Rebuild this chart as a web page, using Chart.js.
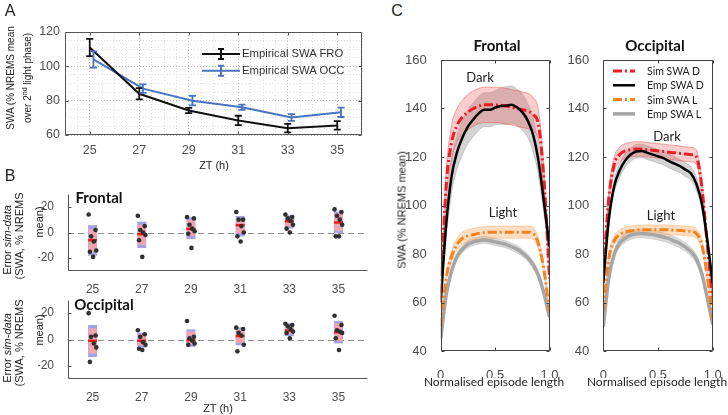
<!DOCTYPE html>
<html>
<head>
<meta charset="utf-8">
<script src="https://cdn.jsdelivr.net/npm/chart.js@4/dist/chart.umd.min.js"></script>
<style>
  body { margin:0; background:#fff; width:728px; height:415px; position:relative; overflow:hidden;
         font-family:"Liberation Sans", Arial, sans-serif; }
  canvas { position:absolute; }
  .t { position:absolute; white-space:nowrap; color:#222; line-height:1; }
</style>
</head>
<body>
<canvas id="chA" width="370" height="175" style="left:0;top:0"></canvas>
<canvas id="chB1" width="372" height="110" style="left:0;top:185px"></canvas>
<canvas id="chB2" width="372" height="110" style="left:0;top:292px"></canvas>
<canvas id="chC1" width="165" height="330" style="left:395px;top:50px"></canvas>
<canvas id="chC2" width="168" height="330" style="left:560px;top:50px"></canvas>
<script>
// ---------- panel A data ----------
var ztHours = [25, 27, 29, 31, 33, 35];
var froMean = [111, 84, 74.3, 68.5, 64, 65.6];
var froErr  = [5, 3.3, 1.5, 2.7, 2.5, 2.5];
var occMean = [104, 87, 80, 76.2, 70.2, 73.2];
var occErr  = [4.7, 2.5, 2.8, 1.5, 2, 2.7];
var occShift = 0.15;
var aYTicks = [60, 80, 100, 120];

// ---------- panel B data (error sim-data) ----------
var bYTicks = [-20, 0, 20];
var froBoxMean = [-6, -1.3, 2.8, 5.7, 8.8, 7.8];
var froPinkHi  = [2.6, 6, 9.8, 11, 11.9, 15];
var froPinkLo  = [-15.5, -9.6, -2.6, -0.5, 4.6, 1.3];
var froBlueHi  = [5.7, 8.5, 11.9, 12.9, 13.4, 16.3];
var froBlueLo  = [-18.1, -12.1, -5.2, -3.1, 3.1, -0.5];
var froDots = [
  [14, 2, -3, -7, -14, -15, -19],
  [13, 5, 2, 0, -2, -6, -19],
  [12, 11, 6, 3, 1, -1, -12],
  [16, 10, 10, 5, 0, -3, -7],
  [14, 12, 11, 9, 6, 3, 0],
  [18, 16, 13, 10, 6, -3, -3]
];
var occBoxMean = [-1, -1, -0.5, 2.6, 6.7, 5.6];
var occPinkHi  = [8.5, 3.8, 6.2, 7.7, 11, 12.3];
var occPinkLo  = [-10.8, -4.6, -4.1, -2.6, 4.1, -1];
var occBlueHi  = [11, 5.1, 7.7, 9.2, 12.3, 14];
var occBlueLo  = [-13.3, -6.2, -5.6, -4.4, 2.6, -3];
var occDots = [
  [20, 3, 2, -3, -6, -17],
  [7, 4, 2, -2, -4, -7, -8],
  [14, 2, 1, -1, -3, -4],
  [9, 8, 5, 3, -4, -9],
  [12, 11, 10, 8, 6, 5, 1],
  [18, 11, 7, 6, 5, 1, -8]
];
var dotJitter = [-0.16, 0.12, -0.06, 0.05, 0.15, -0.11, 0.02];

// ---------- panel C data ----------
var epLen = [0, 0.05, 0.1, 0.15, 0.2, 0.25, 0.3, 0.35, 0.4, 0.45, 0.5,
             0.55, 0.6, 0.65, 0.7, 0.75, 0.8, 0.85, 0.9, 0.95, 1];
var cXTicks = [0, 0.5, 1];
var cYTicks = [40, 60, 80, 100, 120, 140, 160];

var froSimD   = [64, 108, 126, 133, 136.5, 138.5, 140, 141, 141.5, 141.5, 141.5, 141.3, 141, 140.5, 140, 139.5, 139, 137.5, 133, 110, 70];
var froSimDsd = [3, 6, 7, 7, 7, 7.3, 7.3, 7.3, 7.3, 7.3, 7.3, 7.3, 7.3, 7.3, 7.3, 7.3, 7.3, 7, 6, 5, 3];
var froEmpD   = [60, 92, 112, 122, 128, 132.5, 135.5, 138, 139.5, 139.5, 140.3, 141, 141.2, 141.5, 140.5, 138.5, 135, 129, 118, 101, 83];
var froEmpDsd = [2, 6, 7, 7, 7, 7, 7, 7, 7, 7, 7, 7.5, 7.8, 7.8, 7.5, 7.5, 7, 7, 6, 5, 3];
var froSimL   = [50, 70, 79, 84, 86.5, 87.5, 88, 88.5, 88.8, 89, 89, 89, 89, 89, 89, 89, 89, 88.5, 84, 73, 56];
var froSimLsd = [1.5, 2, 2.3, 2.5, 2.5, 2.5, 2.5, 2.5, 2.5, 2.5, 2.5, 2.5, 2.5, 2.5, 2.5, 2.5, 2.5, 2.5, 2.3, 2, 1.5];
var froEmpL   = [45, 63, 73, 79, 82, 84, 85, 85.5, 85.8, 85.5, 85, 84.5, 84, 83, 82, 80.5, 78.5, 75.5, 71, 63.5, 54];
var froEmpLsd = [1.2, 1.5, 1.5, 1.5, 1.5, 1.5, 1.5, 1.5, 1.5, 1.5, 1.5, 1.5, 1.5, 1.5, 1.5, 1.5, 1.5, 1.5, 1.5, 1.5, 1.2];

var occSimD   = [72, 103, 117, 121, 122.5, 123, 123.3, 123.3, 123, 122.8, 122.5, 122.3, 122, 121.8, 121.5, 121.2, 121, 120, 108, 84, 60];
var occSimDsd = [2, 3, 3, 3, 3, 3, 3, 3, 3, 3, 3, 3, 3, 3, 3, 3, 3, 3, 3, 2.5, 2];
var occEmpD   = [68, 94, 108, 114.5, 118.5, 121, 122.3, 122.5, 121.8, 121, 120.3, 119.5, 118.3, 117.3, 116.3, 114.8, 113.3, 109, 101, 86, 68];
var occEmpDsd = [2, 2.5, 2.8, 2.8, 2.8, 2.8, 2.8, 2.8, 2.8, 2.8, 2.8, 2.8, 2.8, 2.8, 2.8, 2.8, 2.8, 2.8, 2.5, 2.5, 2];
var occSimL   = [57, 78, 85.5, 88, 89, 89.5, 89.8, 90, 90, 90, 90, 90, 90, 89.8, 89.7, 89.5, 89.3, 88.5, 84, 71, 53];
var occSimLsd = [1.5, 2, 2, 2, 2, 2, 2, 2, 2, 2, 2, 2, 2, 2, 2, 2, 2, 2, 2, 2, 1.5];
var occEmpL   = [50, 70, 80, 84.5, 86.5, 87.8, 88.3, 88.5, 88.3, 88, 87.5, 87, 86.3, 85.3, 84.3, 82.8, 81, 78, 72, 62, 51];
var occEmpLsd = [1.5, 1.8, 1.8, 1.8, 1.8, 1.8, 1.8, 1.8, 1.8, 1.8, 1.8, 1.8, 1.8, 1.8, 1.8, 1.8, 1.8, 1.8, 1.8, 1.8, 1.5];

// ---------- common ----------
Chart.defaults.font.family = '"Liberation Sans", Arial, sans-serif';
Chart.defaults.color = '#4d4d4d';
Chart.defaults.animation = false;
Chart.defaults.plugins.legend.display = false;
Chart.defaults.plugins.tooltip.enabled = false;

// fixed axis sizes so the plot areas land where the reference has them
function fitY(w) { return function(s) { s.width = w; s.paddingTop = 0; s.paddingBottom = 0; }; }
function fitX(h) { return function(s) { s.height = h; s.paddingLeft = 0; s.paddingRight = 0; }; }
function setTicks(vals) { return function(s) { s.ticks = vals.map(function(v) { return { value: v }; }); }; }

// axes box + inward tick marks (matlab look)
var framePlugin = {
  id: 'frame',
  afterDatasetsDraw: function(chart, args, o) {
    var ctx = chart.ctx, a = chart.chartArea, xs = chart.scales.x, ys = chart.scales.y;
    var L = Math.round(a.left) + 0.5, R = Math.round(a.right) - 0.5;
    var T = Math.round(a.top) + 0.5, B = Math.round(a.bottom) - 0.5;
    var tl = o.tick || 3;
    ctx.save();
    ctx.strokeStyle = o.color || '#444';
    ctx.lineWidth = 1;
    ctx.beginPath();
    if (o.full) ctx.rect(L, T, R - L, B - T);
    else { ctx.moveTo(L, T); ctx.lineTo(L, B); ctx.lineTo(R, B); }
    (o.yMarks || []).forEach(function(v) {
      var p = Math.round(ys.getPixelForValue(v)) + 0.5;
      ctx.moveTo(L, p); ctx.lineTo(L + tl, p);
      if (o.full) { ctx.moveTo(R, p); ctx.lineTo(R - tl, p); }
    });
    (o.xMarks || []).forEach(function(v) {
      var p = Math.round(xs.getPixelForValue(v)) + 0.5;
      ctx.moveTo(p, B); ctx.lineTo(p, B - tl);
      if (o.full) { ctx.moveTo(p, T); ctx.lineTo(p, T + tl); }
    });
    ctx.stroke();
    ctx.restore();
  }
};

// ---------- panel A ----------
var errorBarPlugin = {
  id: 'errbars',
  afterDatasetsDraw: function(chart) {
    var ctx = chart.ctx, xs = chart.scales.x, ys = chart.scales.y;
    chart.data.datasets.forEach(function(ds) {
      if (!ds.errors) return;
      ctx.save();
      ctx.strokeStyle = ds.borderColor;
      ctx.lineWidth = 1.8;
      ds.data.forEach(function(pt, i) {
        var x = xs.getPixelForValue(pt.x);
        var y1 = ys.getPixelForValue(pt.y + ds.errors[i]);
        var y2 = ys.getPixelForValue(pt.y - ds.errors[i]);
        ctx.beginPath();
        ctx.moveTo(x, y1); ctx.lineTo(x, y2);
        ctx.moveTo(x - 3.5, y1); ctx.lineTo(x + 3.5, y1);
        ctx.moveTo(x - 3.5, y2); ctx.lineTo(x + 3.5, y2);
        ctx.stroke();
      });
      ctx.restore();
    });
  }
};

// legend samples (line + error bar glyph); label text is added as html below
var legendAPlugin = {
  id: 'legendA',
  afterDraw: function(chart, args, o) {
    var ctx = chart.ctx;
    chart.data.datasets.forEach(function(ds, i) {
      var y = o.y + i * o.gap, m = o.x + o.len / 2;
      ctx.save();
      ctx.strokeStyle = ds.borderColor;
      ctx.lineWidth = 2;
      ctx.beginPath();
      ctx.moveTo(o.x, y); ctx.lineTo(o.x + o.len, y);
      ctx.moveTo(m, y - 5); ctx.lineTo(m, y + 5);
      ctx.moveTo(m - 3, y - 5); ctx.lineTo(m + 3, y - 5);
      ctx.moveTo(m - 3, y + 5); ctx.lineTo(m + 3, y + 5);
      ctx.stroke();
      ctx.restore();
    });
  }
};

var aGrid = [];
for (var g = 24; g <= 36; g += 0.5) aGrid.push(g);
var aYGrid = [];
for (var h = 60; h <= 120; h += 5) aYGrid.push(h);

new Chart(document.getElementById('chA'), {
  type: 'line',
  data: {
    datasets: [
      { label: 'Empirical SWA FRO', borderColor: '#111', borderWidth: 2, pointRadius: 0,
        data: ztHours.map(function(x, i) { return { x: x, y: froMean[i] }; }), errors: froErr },
      { label: 'Empirical SWA OCC', borderColor: '#4a73c0', borderWidth: 2, pointRadius: 0,
        data: ztHours.map(function(x, i) { return { x: x + occShift, y: occMean[i] }; }), errors: occErr }
    ]
  },
  options: {
    responsive: false, devicePixelRatio: 1,
    layout: { padding: { left: 33, right: 8, top: 32, bottom: 14 } },
    scales: {
      x: { type: 'linear', min: 24, max: 36, afterFit: fitX(26), afterBuildTicks: setTicks(aGrid),
           border: { display: false, dash: [1, 2] },
           grid: { drawTicks: false, color: function(c) { return ztHours.indexOf(c.tick.value) >= 0 ? '#bdbdbd' : '#dedede'; } },
           ticks: { padding: 8, font: { size: 12.5 }, autoSkip: false, maxRotation: 0,
                    callback: function(v) { return ztHours.indexOf(v) >= 0 ? String(v) : ''; } } },
      y: { min: 60, max: 120, afterFit: fitY(32), afterBuildTicks: setTicks(aYGrid),
           border: { display: false, dash: [1, 2] },
           grid: { drawTicks: false, color: function(c) { return aYTicks.indexOf(c.tick.value) >= 0 ? '#bdbdbd' : '#dedede'; } },
           ticks: { padding: 5, font: { size: 12.5 }, autoSkip: false,
                    callback: function(v) { return aYTicks.indexOf(v) >= 0 ? String(v) : ''; } } }
    },
    plugins: {
      frame: { full: true, color: '#555', xMarks: ztHours, yMarks: aYTicks },
      legendA: { x: 202, y: 54, gap: 16.7, len: 38 }
    }
  },
  plugins: [framePlugin, errorBarPlugin, legendAPlugin]
});

// ---------- panel B ----------
var boxPlugin = {
  id: 'errBoxes',
  beforeDatasetsDraw: function(chart, args, o) {
    var ctx = chart.ctx, a = chart.chartArea, xs = chart.scales.x, ys = chart.scales.y;
    ctx.save();
    var y0 = Math.round(ys.getPixelForValue(0)) + 0.5;
    ctx.strokeStyle = '#8f8f8f'; ctx.lineWidth = 1.2; ctx.setLineDash([6, 4]);
    ctx.beginPath(); ctx.moveTo(a.left, y0); ctx.lineTo(a.right, y0); ctx.stroke();
    ctx.setLineDash([]);
    o.hours.forEach(function(hr, i) {
      var x = xs.getPixelForValue(hr);
      var bt = ys.getPixelForValue(o.blueHi[i]), bb = ys.getPixelForValue(o.blueLo[i]);
      ctx.fillStyle = '#a3a3e6';
      ctx.fillRect(x - 4.5, bt, 9, bb - bt);
      var pt = ys.getPixelForValue(o.pinkHi[i]), pb = ys.getPixelForValue(o.pinkLo[i]);
      ctx.fillStyle = '#f4a4aa';
      ctx.fillRect(x - 4, pt, 8, pb - pt);
      var m = ys.getPixelForValue(o.mean[i]);
      ctx.strokeStyle = '#ff1414'; ctx.lineWidth = 2.5;
      ctx.beginPath(); ctx.moveTo(x - 4.5, m); ctx.lineTo(x + 4.5, m); ctx.stroke();
    });
    ctx.restore();
  }
};

function dotData(dots) {
  var out = [];
  dots.forEach(function(vals, i) {
    vals.forEach(function(v, j) { out.push({ x: ztHours[i] + dotJitter[j % dotJitter.length], y: v }); });
  });
  return out;
}

function errorChart(id, dots, mean, pHi, pLo, bHi, bLo, padTop, padBottom) {
  return new Chart(document.getElementById(id), {
    type: 'scatter',
    data: { datasets: [{ data: dotData(dots), pointRadius: 2.3, backgroundColor: '#303030', borderWidth: 0 }] },
    options: {
      responsive: false, devicePixelRatio: 1,
      layout: { padding: { left: 38, right: 4, top: padTop, bottom: padBottom } },
      scales: {
        x: { type: 'linear', min: 24, max: 36.2, afterFit: fitX(22), afterBuildTicks: setTicks(ztHours),
             border: { display: false }, grid: { display: false },
             ticks: { padding: 3, font: { size: 12 }, maxRotation: 0, autoSkip: false } },
        y: { min: -30, max: 30, afterFit: fitY(30), afterBuildTicks: setTicks(bYTicks),
             border: { display: false }, grid: { display: false },
             ticks: { padding: 6, font: { size: 12 }, autoSkip: false } }
      },
      plugins: {
        frame: { full: false, color: '#555', yMarks: bYTicks },
        errBoxes: { hours: ztHours, mean: mean, pinkHi: pHi, pinkLo: pLo, blueHi: bHi, blueLo: bLo }
      }
    },
    plugins: [framePlugin, boxPlugin]
  });
}
errorChart('chB1', froDots, froBoxMean, froPinkHi, froPinkLo, froBlueHi, froBlueLo, 9, 2);
errorChart('chB2', occDots, occBoxMean, occPinkHi, occPinkLo, occBlueHi, occBlueLo, 8, 1);

// ---------- panel C ----------
var RED = '#ee1c25', ORANGE = '#f5821f', GREY = '#a6a6a6', DASHDOT = [9, 3, 2, 3];

var legendCPlugin = {
  id: 'legendC',
  afterDraw: function(chart, args, o) {
    if (!o.show) return;
    var ctx = chart.ctx;
    chart.data.datasets.slice(0, 4).forEach(function(ds, i) {
      var y = o.y + i * o.gap;
      ctx.save();
      ctx.strokeStyle = ds.borderColor;
      ctx.lineWidth = ds.borderWidth;
      ctx.setLineDash(ds.borderDash || []);
      ctx.beginPath(); ctx.moveTo(o.x, y); ctx.lineTo(o.x + o.len, y); ctx.stroke();
      ctx.restore();
    });
  }
};

function pts(vals, sd, sign) {
  return epLen.map(function(x, i) { return { x: x, y: vals[i] + sign * (sd ? sd[i] : 0) }; });
}
function band(vals, sd, fillColor, edgeColor) {
  return [
    { data: pts(vals, sd, 1), borderColor: edgeColor, borderWidth: 0.8, pointRadius: 0, order: 2,
      backgroundColor: fillColor, fill: '+1', cubicInterpolationMode: 'monotone' },
    { data: pts(vals, sd, -1), borderColor: edgeColor, borderWidth: 0.8, pointRadius: 0, order: 2,
      fill: false, cubicInterpolationMode: 'monotone' }
  ];
}
function line(label, vals, color, width, dash, order) {
  return { label: label, data: pts(vals, null, 0), borderColor: color, borderWidth: width, order: order,
           borderDash: dash, pointRadius: 0, fill: false, cubicInterpolationMode: 'monotone' };
}

function swaChart(id, simD, simDsd, empD, empDsd, simL, simLsd, empL, empLsd, padLeft, padRight, legend) {
  var ds = [
    line('Sim SWA D', simD, RED, 3, DASHDOT, 1),
    line('Emp SWA D', empD, '#000', 2.5, [], 0),
    line('Sim SWA L', simL, ORANGE, 3, DASHDOT, 0),
    line('Emp SWA L', empL, GREY, 3.5, [], 1)
  ].concat(
    band(simD, simDsd, 'rgba(240,80,80,0.28)', 'rgba(225,60,60,0.55)'),
    band(empD, empDsd, 'rgba(110,110,110,0.3)', 'rgba(110,110,110,0.35)'),
    band(simL, simLsd, 'rgba(250,160,80,0.35)', 'rgba(245,140,60,0.4)'),
    band(empL, empLsd, 'rgba(150,150,150,0.35)', 'rgba(150,150,150,0.35)')
  );
  return new Chart(document.getElementById(id), {
    type: 'line',
    data: { datasets: ds },
    options: {
      responsive: false, devicePixelRatio: 1,
      layout: { padding: { left: padLeft, right: padRight, top: 10, bottom: 2 } },
      scales: {
        x: { type: 'linear', min: 0, max: 1, afterFit: fitX(27), afterBuildTicks: setTicks(cXTicks),
             border: { display: false }, grid: { display: false },
             ticks: { padding: 9, font: { size: 13 }, maxRotation: 0, autoSkip: false } },
        y: { min: 40, max: 160, afterFit: fitY(36), afterBuildTicks: setTicks(cYTicks),
             border: { display: false }, grid: { display: false },
             ticks: { padding: 6, font: { size: 13 }, autoSkip: false } }
      },
      plugins: {
        frame: { full: true, color: '#444', xMarks: cXTicks, yMarks: cYTicks },
        legendC: legend || { show: false }
      }
    },
    plugins: [framePlugin, legendCPlugin]
  });
}
swaChart('chC1', froSimD, froSimDsd, froEmpD, froEmpDsd, froSimL, froSimLsd, froEmpL, froEmpLsd, 9.7, 10.5);
swaChart('chC2', occSimD, occSimDsd, occEmpD, occEmpDsd, occSimL, occSimLsd, occEmpL, occEmpLsd, 7.3, 15.3,
         { show: true, x: 53, y: 21, gap: 14.3, len: 22 });

// ---------- text ----------
function txt(html, cx, cy, css, rot, left) {
  var d = document.createElement('div');
  d.className = 't';
  d.innerHTML = html;
  d.style.cssText += css || '';
  d.style.left = cx + 'px';
  d.style.top = cy + 'px';
  d.style.transform = (left ? 'translate(0,-50%)' : 'translate(-50%,-50%)') + (rot ? ' rotate(-90deg)' : '');
  document.body.appendChild(d);
}
var calibri = 'font-family:Lato,"Open Sans",sans-serif;';
txt('A', 10, 11, 'font-size:16px;');
txt('B', 10, 176, 'font-size:16px;');
txt('C', 397, 11, 'font-size:16px;');
txt('SWA (% NREMS mean', 11, 78, 'font-size:10px;', true);
txt('over 2<sup style="font-size:7px">nd</sup> light phase)', 27, 78, 'font-size:10px;', true);
txt('Empirical SWA FRO', 242, 54, 'font-size:11.3px;color:#333;', false, true);
txt('Empirical SWA OCC', 242, 71, 'font-size:11.3px;color:#333;', false, true);
txt('ZT (h)', 214, 165, 'font-size:11px;');
txt('Error <i>sim-data</i>', 7, 240, 'font-size:11px;', true);
txt('(SWA, % NREMS', 19, 236, 'font-size:11px;', true);
txt('mean)', 39, 222, 'font-size:11px;', true);
txt('Error <i>sim-data</i>', 7, 348, 'font-size:11px;', true);
txt('(SWA, % NREMS', 19, 343, 'font-size:11px;', true);
txt('mean)', 39, 330, 'font-size:11px;', true);
txt('Frontal', 99, 197, calibri + 'font-size:15px;font-weight:bold;color:#111;');
txt('Occipital', 104, 304, calibri + 'font-size:15px;font-weight:bold;color:#111;');
txt('ZT (h)', 218, 408, 'font-size:11px;');
txt('Frontal', 497, 45, calibri + 'font-size:15px;font-weight:bold;color:#111;');
txt('Occipital', 655, 45, calibri + 'font-size:15px;font-weight:bold;color:#111;');
txt('SWA (% NREMS mean)', 402, 210, 'font-size:11px;', true);
txt('Normalised episode length', 494, 382, calibri + 'font-size:12px;');
txt('Normalised episode length', 657, 382, calibri + 'font-size:12px;');
txt('Dark', 480, 77, calibri + 'font-size:13px;');
txt('Light', 503, 212, calibri + 'font-size:13px;');
txt('Dark', 667, 136, calibri + 'font-size:13px;');
txt('Light', 661, 215, calibri + 'font-size:13px;');
var legC = ['Sim SWA D', 'Emp SWA D', 'Sim SWA L', 'Emp SWA L'];
legC.forEach(function(s, i) { txt(s, 647, 71 + i * 14.3, calibri + 'font-size:10.5px;', false, true); });
</script>
</body>
</html>
